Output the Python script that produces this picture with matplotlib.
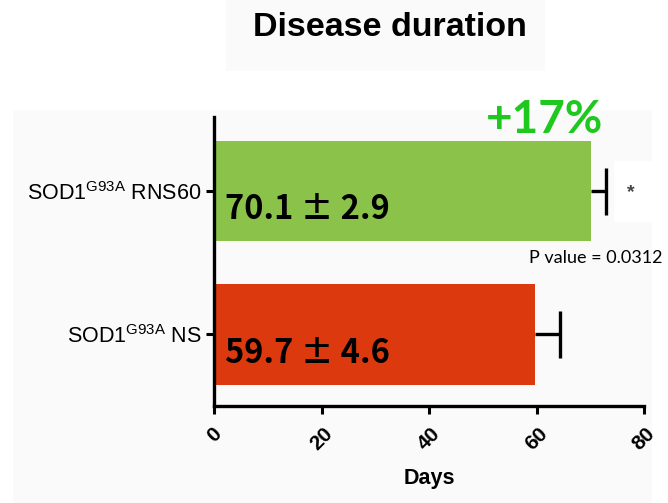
import matplotlib
matplotlib.use("Agg")
import matplotlib.pyplot as plt
import numpy as np
from matplotlib.patches import Rectangle

plt.rcParams['font.family'] = ['Liberation Sans', 'DejaVu Sans']
plt.rcParams['mathtext.fontset'] = 'custom'
plt.rcParams['mathtext.rm'] = 'Liberation Sans'
plt.rcParams['mathtext.it'] = 'Liberation Sans'

# Data
categories = ["SOD1$^{\\mathrm{G93A}}$ NS", "SOD1$^{\\mathrm{G93A}}$ RNS60"]
means = [59.7, 70.1]
sems = [4.6, 2.9]
bar_colors = ["#DC390F", "#8BC24A"]
bar_labels = ["59.7 \u00b1 4.6", "70.1 \u00b1 2.9"]
xticks = [0, 20, 40, 60, 80]
title = "Disease duration"
xlabel = "Days"
increase_label = "+17%"
pvalue_label = "P value = 0.0312"

W, H = 668, 503
fig = plt.figure(figsize=(W / 100, H / 100), dpi=100)
fig.patch.set_facecolor("white")

def fx(px):
    return px / W

def fy(py):
    return 1 - py / H

# background panels
for (x0, y0, x1, y1, c) in [(13, 110, 652, 503, "#fafafa"),
                            (226, 0, 545, 71, "#fafafa"),
                            (614, 161, 652, 222, "white")]:
    r = Rectangle((fx(x0), fy(y1)), fx(x1) - fx(x0), fy(y0) - fy(y1),
                  transform=fig.transFigure, facecolor=c, edgecolor="none", zorder=-5)
    fig.add_artist(r)

ax = fig.add_axes([fx(214), fy(406), fx(644) - fx(214), fy(117) - fy(406)])
ax.set_facecolor("none")
ax.set_zorder(5)

ypos = np.arange(len(categories))
m = np.array(means)
e = np.array(sems)
ax.barh(ypos, m, height=0.70, color=bar_colors, edgecolor="none", zorder=2)
# one-sided error bars (upper only)
ax.hlines(ypos, m, m + e, color="black", linewidth=2.4, zorder=3)
ax.vlines(m + e, ypos - 0.165, ypos + 0.165, color="black", linewidth=2.4, zorder=3)

ax.set_xlim(0, 80)
ax.set_ylim(-0.50, 1.52)
ax.set_xticks(xticks)
ax.set_xticklabels([str(t) for t in xticks], rotation=45, ha="center",
                   fontsize=15, fontweight="bold")
ax.set_yticks(ypos)
ax.set_yticklabels(categories, fontsize=15.5)
ax.tick_params(axis="both", length=6, width=2.2, color="black", pad=3)
ax.tick_params(axis="x", pad=7)

for s in ["top", "right"]:
    ax.spines[s].set_visible(False)
for s in ["left", "bottom"]:
    ax.spines[s].set_linewidth(2.4)

ax.set_xlabel(xlabel, fontsize=15.5, fontweight="bold", labelpad=10)

for y, lab in zip(ypos, bar_labels):
    ax.text(2.0, y - 0.13, lab, fontsize=23.5, fontweight="bold",
            family=["Noto Sans CJK JP", "DejaVu Sans"],
            va="center", ha="left", color="black", zorder=4)

fig.text(fx(545), fy(120), increase_label, fontsize=33, fontweight="bold",
         family=["Lato", "DejaVu Sans"], color="#1EC81E", ha="center", va="center", zorder=6)
fig.text(fx(596), fy(258), pvalue_label, fontsize=13, family=["Lato", "DejaVu Sans"],
         color="black", ha="center", va="center", zorder=6)
fig.text(fx(631), fy(193), "*", fontsize=14, fontweight="bold", color="#444444",
         ha="center", va="center", zorder=6)
fig.text(fx(390), fy(28), title, fontsize=24.5, fontweight="bold", ha="center", va="center",
         zorder=6)

fig.savefig("out.png", dpi=100, facecolor=fig.get_facecolor())
